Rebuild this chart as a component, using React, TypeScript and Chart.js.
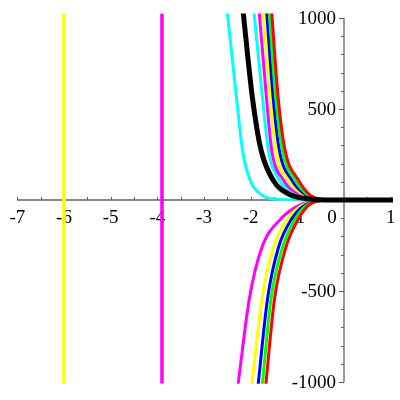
import React, { useEffect, useRef } from "react";
import { Chart, registerables } from "chart.js";

Chart.register(...registerables);

// Axis ranges
const X_MIN = -7;
const X_MAX = 1.05;
const Y_MIN = -1010;
const Y_MAX = 1025;

// Tick values / labels
const xTickValues = [-7, -6, -5, -4, -3, -2, -1, 0, 1];
const xTickLabels = ["-7", "-6", "-5", "-4", "-3", "-2", "-1", "0", "1"];
const yTickValues = [1000, 500, -500, -1000];
const yTickLabels = ["1000", "500", "-500", "-1000"];

// Vertical lines
const vLineYellowX = -6;
const vLineMagentaX = -3.9;

// Upper curves (positive branch) – shared y samples
const upperY = [1030, 560, 275, 110, 27, 5.5, 0, 0];
const blackX = [-2.16, -1.961, -1.778, -1.521, -1.136, -0.729, -0.4, 1.05];
const cyanLeftX = [-2.5, -2.303, -2.175, -2.014, -1.763, -1.5, -0.9, 1.05];
const cyanLeftY = [1030, 560, 275, 110, 27, 5, 0, 0];
const cyanUpX = [-1.928, -1.746, -1.62, -1.39, -0.99, -0.69, -0.4, 1.05];
const magentaUpX = [-1.815, -1.661, -1.549, -1.301, -0.92, -0.64, -0.38, 1.05];
const yellowUpX = [-1.729, -1.581, -1.463, -1.206, -0.857, -0.6, -0.37, 1.05];
const blueUpX = [-1.656, -1.517, -1.386, -1.121, -0.814, -0.58, -0.36, 1.05];
const greenUpX = [-1.601, -1.461, -1.322, -1.05, -0.771, -0.557, -0.35, 1.05];
const redUpX = [-1.549, -1.41, -1.264, -0.979, -0.729, -0.536, -0.34, 1.05];

// Lower curves (negative branch) – shared y samples
const lowerY = [-1015, -544, -264, -99, -27, -5.5, 0, 0];
const magentaLowX = [-2.27, -2.029, -1.763, -1.335, -0.943, -0.66, -0.4, 1.05];
const yellowLowX = [-1.975, -1.757, -1.515, -1.193, -0.878, -0.62, -0.38, 1.05];
const blueLowX = [-1.84, -1.639, -1.408, -1.108, -0.836, -0.6, -0.37, 1.05];
const greenLowX = [-1.75, -1.564, -1.322, -1.035, -0.793, -0.578, -0.36, 1.05];
const redLowX = [-1.675, -1.489, -1.249, -0.964, -0.75, -0.557, -0.35, 1.05];

const pts = (xs: number[], ys: number[]) => xs.map((x, i) => ({ x, y: ys[i] }));

const curve = (xs: number[], ys: number[], color: string, width = 3) => ({
  data: pts(xs, ys),
  borderColor: color,
  backgroundColor: color,
  borderWidth: width,
  showLine: true,
  pointRadius: 0,
  cubicInterpolationMode: "monotone" as const,
  fill: false,
});

const vline = (x: number, color: string) => ({
  data: [
    { x, y: Y_MIN },
    { x, y: Y_MAX },
  ],
  borderColor: color,
  backgroundColor: color,
  borderWidth: 3.5,
  showLine: true,
  pointRadius: 0,
  tension: 0,
  fill: false,
});

const FONT = '19px "Liberation Serif", "Times New Roman", serif';

const axesPlugin = {
  id: "mapleAxes",
  beforeDatasetsDraw(chart: any) {
    const { ctx } = chart;
    const xs = chart.scales.x;
    const ys = chart.scales.y;
    const x0 = xs.getPixelForValue(0);
    const y0 = ys.getPixelForValue(0);
    ctx.save();
    ctx.strokeStyle = "#606060";
    ctx.lineWidth = 1.3;
    // x axis
    ctx.beginPath();
    ctx.moveTo(xs.getPixelForValue(-7), y0);
    ctx.lineTo(xs.getPixelForValue(X_MAX), y0);
    ctx.stroke();
    // y axis
    ctx.beginPath();
    ctx.moveTo(x0, ys.getPixelForValue(1000));
    ctx.lineTo(x0, ys.getPixelForValue(-1000));
    ctx.stroke();
    // x ticks (every 0.5, upward)
    ctx.lineWidth = 1;
    for (let v = -7; v <= 1.001; v += 0.5) {
      const px = Math.round(xs.getPixelForValue(v)) + 0.5;
      ctx.beginPath();
      ctx.moveTo(px, y0);
      ctx.lineTo(px, y0 - 3);
      ctx.stroke();
    }
    // y ticks (every 100, leftward)
    for (let v = -1000; v <= 1000; v += 100) {
      if (v === 0) continue;
      const py = Math.round(ys.getPixelForValue(v)) + 0.5;
      const len = v % 500 === 0 ? 5 : 3;
      ctx.beginPath();
      ctx.moveTo(x0, py);
      ctx.lineTo(x0 - len, py);
      ctx.stroke();
    }
    // labels
    ctx.fillStyle = "#000";
    ctx.font = FONT;
    ctx.textBaseline = "middle";
    ctx.textAlign = "center";
    xTickValues.forEach((v, i) => {
      let px = xs.getPixelForValue(v);
      if (v === 0) px -= 12;
      ctx.fillText(xTickLabels[i], px, y0 + 18);
    });
    ctx.textAlign = "right";
    yTickValues.forEach((v, i) => {
      ctx.fillText(yTickLabels[i], x0 - 8, ys.getPixelForValue(v) + 1);
    });
    ctx.restore();
  },
};

export default function App() {
  const canvasRef = useRef<HTMLCanvasElement | null>(null);

  useEffect(() => {
    const canvas = canvasRef.current;
    if (!canvas) return;
    const chart = new Chart(canvas, {
      type: "scatter",
      data: {
        datasets: [
          curve(blackX, upperY, "#000000", 5),
          curve(redUpX, upperY, "#ff0000"),
          curve(greenUpX, upperY, "#00ff00"),
          curve(blueUpX, upperY, "#0000ff"),
          curve(yellowUpX, upperY, "#ffff00"),
          curve(magentaUpX, upperY, "#ff00ff"),
          curve(cyanUpX, upperY, "#00ffff"),
          curve(cyanLeftX, cyanLeftY, "#00ffff"),
          curve(redLowX, lowerY, "#ff0000"),
          curve(greenLowX, lowerY, "#00ff00"),
          curve(blueLowX, lowerY, "#0000ff"),
          curve(yellowLowX, lowerY, "#ffff00"),
          curve(magentaLowX, lowerY, "#ff00ff"),
          vline(vLineYellowX, "#ffff00"),
          vline(vLineMagentaX, "#ff00ff"),
        ] as any,
      },
      options: {
        animation: false,
        responsive: false,
        devicePixelRatio: 1,
        layout: { padding: { left: 17.3, right: 7, top: 13.45, bottom: 16.2 } },
        plugins: {
          legend: { display: false },
          tooltip: { enabled: false },
        },
        scales: {
          x: { type: "linear", min: X_MIN, max: X_MAX, display: false },
          y: { type: "linear", min: Y_MIN, max: Y_MAX, display: false },
        },
      },
      plugins: [axesPlugin],
    });
    return () => chart.destroy();
  }, []);

  return (
    <div style={{ position: "absolute", left: 0, top: 0, width: 400, height: 400, background: "#fff" }}>
      <canvas ref={canvasRef} width={400} height={400} />
    </div>
  );
}
